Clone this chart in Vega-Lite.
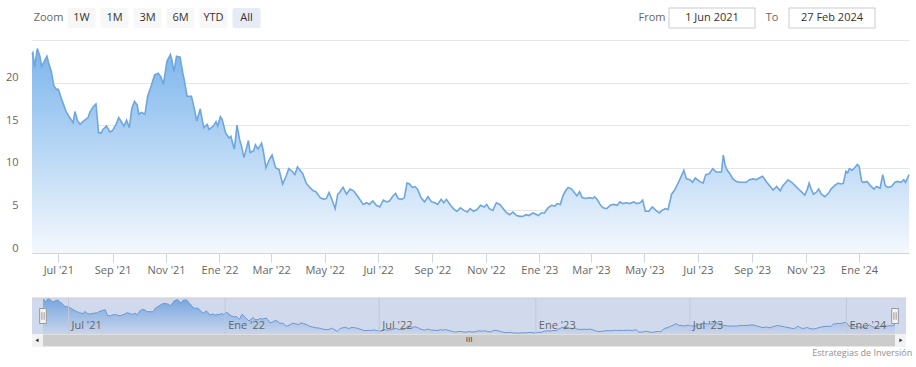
{
"$schema": "https://vega.github.io/schema/vega-lite/v6.json",
"padding": {"left": 0, "top": 7, "right": 0, "bottom": 0},
"background": "white",
"spacing": 11,
"config": {"view": {"stroke": null}, "font": "Open Sans"},
"title": {"text": "Estrategias de Inversión", "orient": "bottom", "anchor": "end", "fontSize": 9, "fontWeight": "normal", "color": "#909090", "font": "Open Sans", "offset": 2},
"datasets": {
"buttons": [{"label": "Zoom"}, {"label": "1W"}, {"label": "1M"}, {"label": "3M"}, {"label": "6M"}, {"label": "YTD"}, {"label": "All"}],
"fromto": [{"label": "From"}, {"label": "1 Jun 2021"}, {"label": "To"}, {"label": "27 Feb 2024"}],
"navticks": [{"date": "2021-07-01", "label": "Jul '21"}, {"date": "2022-01-01", "label": "Ene '22"}, {"date": "2022-07-01", "label": "Jul '22"}, {"date": "2023-01-01", "label": "Ene '23"}, {"date": "2023-07-01", "label": "Jul '23"}, {"date": "2024-01-01", "label": "Ene '24"}],
"prices": [
{"date":"2021-06-01","price":23.3},{"date":"2021-06-02","price":23.5},{"date":"2021-06-04","price":21.8},{"date":"2021-06-07","price":24.0},{"date":"2021-06-10","price":23.1},{"date":"2021-06-12","price":21.9},{"date":"2021-06-15","price":22.5},{"date":"2021-06-18","price":23.1},{"date":"2021-06-20","price":22.3},{"date":"2021-06-23","price":21.3},{"date":"2021-06-26","price":19.6},{"date":"2021-06-29","price":19.2},
{"date":"2021-07-01","price":19.2},{"date":"2021-07-05","price":18.0},{"date":"2021-07-10","price":16.6},{"date":"2021-07-14","price":15.9},{"date":"2021-07-18","price":15.3},{"date":"2021-07-20","price":16.6},{"date":"2021-07-23","price":15.5},{"date":"2021-07-26","price":15.1},{"date":"2021-07-30","price":15.5},
{"date":"2021-08-04","price":15.9},{"date":"2021-08-06","price":16.5},{"date":"2021-08-10","price":17.2},{"date":"2021-08-13","price":17.5},{"date":"2021-08-16","price":14.1},{"date":"2021-08-19","price":14.1},{"date":"2021-08-21","price":14.5},{"date":"2021-08-25","price":14.9},{"date":"2021-08-29","price":14.2},
{"date":"2021-09-01","price":14.4},{"date":"2021-09-05","price":15.1},{"date":"2021-09-08","price":15.9},{"date":"2021-09-11","price":15.4},{"date":"2021-09-14","price":14.9},{"date":"2021-09-17","price":15.6},{"date":"2021-09-20","price":14.7},{"date":"2021-09-23","price":17.0},{"date":"2021-09-26","price":17.8},{"date":"2021-09-29","price":17.4},
{"date":"2021-10-01","price":16.3},{"date":"2021-10-04","price":16.5},{"date":"2021-10-08","price":16.3},{"date":"2021-10-11","price":18.4},{"date":"2021-10-15","price":19.6},{"date":"2021-10-19","price":20.9},{"date":"2021-10-23","price":21.1},{"date":"2021-10-26","price":20.7},{"date":"2021-10-29","price":19.8},
{"date":"2021-11-02","price":22.5},{"date":"2021-11-06","price":23.3},{"date":"2021-11-08","price":22.5},{"date":"2021-11-10","price":21.3},{"date":"2021-11-13","price":23.1},{"date":"2021-11-17","price":23.0},{"date":"2021-11-20","price":21.2},{"date":"2021-11-22","price":20.2},{"date":"2021-11-25","price":18.4},{"date":"2021-11-30","price":18.4},
{"date":"2021-12-04","price":16.6},{"date":"2021-12-06","price":15.5},{"date":"2021-12-10","price":16.9},{"date":"2021-12-14","price":14.7},{"date":"2021-12-18","price":15.1},{"date":"2021-12-20","price":14.5},{"date":"2021-12-25","price":14.9},{"date":"2021-12-28","price":15.4},{"date":"2021-12-30","price":14.9},
{"date":"2022-01-02","price":16.0},{"date":"2022-01-04","price":15.7},{"date":"2022-01-08","price":14.1},{"date":"2022-01-12","price":13.5},{"date":"2022-01-14","price":13.7},{"date":"2022-01-17","price":12.5},{"date":"2022-01-18","price":12.2},{"date":"2022-01-21","price":15.0},{"date":"2022-01-24","price":13.3},{"date":"2022-01-26","price":12.6},{"date":"2022-01-29","price":11.2},
{"date":"2022-02-01","price":12.4},{"date":"2022-02-03","price":13.2},{"date":"2022-02-05","price":11.8},{"date":"2022-02-09","price":12.0},{"date":"2022-02-11","price":12.7},{"date":"2022-02-14","price":12.2},{"date":"2022-02-18","price":12.9},{"date":"2022-02-20","price":12.0},{"date":"2022-02-23","price":10.0},{"date":"2022-02-27","price":11.0},
{"date":"2022-03-02","price":11.5},{"date":"2022-03-06","price":10.0},{"date":"2022-03-10","price":9.8},{"date":"2022-03-14","price":8.1},{"date":"2022-03-18","price":9.0},{"date":"2022-03-21","price":9.9},{"date":"2022-03-25","price":9.6},{"date":"2022-03-28","price":9.2},{"date":"2022-03-31","price":10.1},
{"date":"2022-04-03","price":9.7},{"date":"2022-04-06","price":9.3},{"date":"2022-04-10","price":8.2},{"date":"2022-04-14","price":7.7},{"date":"2022-04-18","price":7.3},{"date":"2022-04-21","price":7.2},{"date":"2022-04-26","price":6.5},{"date":"2022-04-30","price":6.3},
{"date":"2022-05-03","price":6.4},{"date":"2022-05-06","price":7.1},{"date":"2022-05-10","price":6.1},{"date":"2022-05-13","price":5.2},{"date":"2022-05-16","price":6.9},{"date":"2022-05-18","price":7.1},{"date":"2022-05-22","price":7.7},{"date":"2022-05-26","price":6.9},{"date":"2022-05-30","price":7.5},
{"date":"2022-06-03","price":7.3},{"date":"2022-06-06","price":6.9},{"date":"2022-06-10","price":6.3},{"date":"2022-06-14","price":5.7},{"date":"2022-06-18","price":5.9},{"date":"2022-06-21","price":5.7},{"date":"2022-06-25","price":6.1},{"date":"2022-06-29","price":5.6},
{"date":"2022-07-03","price":5.4},{"date":"2022-07-07","price":6.2},{"date":"2022-07-11","price":6.0},{"date":"2022-07-14","price":6.1},{"date":"2022-07-18","price":6.7},{"date":"2022-07-21","price":7.0},{"date":"2022-07-24","price":6.4},{"date":"2022-07-28","price":6.3},{"date":"2022-07-31","price":6.5},
{"date":"2022-08-03","price":8.2},{"date":"2022-08-06","price":8.1},{"date":"2022-08-09","price":7.7},{"date":"2022-08-12","price":7.8},{"date":"2022-08-15","price":7.5},{"date":"2022-08-19","price":6.5},{"date":"2022-08-23","price":6.0},{"date":"2022-08-27","price":6.6},{"date":"2022-08-31","price":6.0},
{"date":"2022-09-04","price":5.9},{"date":"2022-09-07","price":5.7},{"date":"2022-09-11","price":6.3},{"date":"2022-09-14","price":5.9},{"date":"2022-09-17","price":6.3},{"date":"2022-09-21","price":5.7},{"date":"2022-09-26","price":5.1},{"date":"2022-09-29","price":4.9},
{"date":"2022-10-03","price":5.3},{"date":"2022-10-07","price":5.0},{"date":"2022-10-11","price":4.8},{"date":"2022-10-14","price":5.2},{"date":"2022-10-18","price":4.9},{"date":"2022-10-22","price":5.1},{"date":"2022-10-26","price":5.6},{"date":"2022-10-30","price":5.4},
{"date":"2022-11-02","price":5.7},{"date":"2022-11-05","price":5.2},{"date":"2022-11-09","price":5.0},{"date":"2022-11-13","price":5.9},{"date":"2022-11-17","price":5.7},{"date":"2022-11-21","price":5.2},{"date":"2022-11-24","price":4.8},{"date":"2022-11-28","price":4.5},
{"date":"2022-12-02","price":4.8},{"date":"2022-12-06","price":4.4},{"date":"2022-12-10","price":4.3},{"date":"2022-12-13","price":4.3},{"date":"2022-12-17","price":4.5},{"date":"2022-12-20","price":4.4},{"date":"2022-12-25","price":4.7},{"date":"2022-12-31","price":4.4},
{"date":"2023-01-03","price":4.7},{"date":"2023-01-07","price":4.7},{"date":"2023-01-11","price":5.3},{"date":"2023-01-15","price":5.6},{"date":"2023-01-19","price":5.5},{"date":"2023-01-21","price":5.8},{"date":"2023-01-25","price":5.7},{"date":"2023-01-28","price":6.7},{"date":"2023-01-31","price":7.3},
{"date":"2023-02-03","price":7.7},{"date":"2023-02-07","price":7.5},{"date":"2023-02-10","price":7.1},{"date":"2023-02-13","price":6.7},{"date":"2023-02-16","price":7.2},{"date":"2023-02-19","price":6.5},{"date":"2023-02-23","price":6.4},{"date":"2023-02-27","price":6.5},
{"date":"2023-03-03","price":6.4},{"date":"2023-03-05","price":6.6},{"date":"2023-03-08","price":6.3},{"date":"2023-03-12","price":5.6},{"date":"2023-03-15","price":5.3},{"date":"2023-03-19","price":5.2},{"date":"2023-03-23","price":5.6},{"date":"2023-03-27","price":5.7},{"date":"2023-03-31","price":5.6},
{"date":"2023-04-03","price":6.0},{"date":"2023-04-06","price":5.8},{"date":"2023-04-10","price":5.9},{"date":"2023-04-14","price":5.8},{"date":"2023-04-19","price":6.0},{"date":"2023-04-22","price":5.8},{"date":"2023-04-26","price":5.9},{"date":"2023-04-29","price":6.2},
{"date":"2023-05-02","price":4.9},{"date":"2023-05-06","price":4.9},{"date":"2023-05-10","price":5.4},{"date":"2023-05-14","price":5.0},{"date":"2023-05-18","price":4.7},{"date":"2023-05-21","price":5.0},{"date":"2023-05-25","price":5.2},{"date":"2023-05-28","price":5.1},
{"date":"2023-06-01","price":6.9},{"date":"2023-06-04","price":7.3},{"date":"2023-06-08","price":8.1},{"date":"2023-06-12","price":9.0},{"date":"2023-06-15","price":9.7},{"date":"2023-06-18","price":8.7},{"date":"2023-06-22","price":8.6},{"date":"2023-06-25","price":8.3},{"date":"2023-06-28","price":8.8},
{"date":"2023-07-03","price":8.4},{"date":"2023-07-07","price":8.2},{"date":"2023-07-10","price":9.2},{"date":"2023-07-14","price":9.3},{"date":"2023-07-18","price":9.9},{"date":"2023-07-22","price":9.5},{"date":"2023-07-26","price":9.5},{"date":"2023-07-28","price":9.5},{"date":"2023-07-30","price":11.5},
{"date":"2023-08-01","price":10.4},{"date":"2023-08-03","price":9.8},{"date":"2023-08-06","price":9.4},{"date":"2023-08-10","price":8.7},{"date":"2023-08-14","price":8.4},{"date":"2023-08-18","price":8.3},{"date":"2023-08-21","price":8.3},{"date":"2023-08-25","price":8.3},{"date":"2023-08-29","price":8.6},
{"date":"2023-09-02","price":8.7},{"date":"2023-09-06","price":8.6},{"date":"2023-09-09","price":8.8},{"date":"2023-09-13","price":9.0},{"date":"2023-09-17","price":8.4},{"date":"2023-09-21","price":7.9},{"date":"2023-09-25","price":7.4},{"date":"2023-09-29","price":7.8},
{"date":"2023-10-03","price":7.3},{"date":"2023-10-06","price":7.9},{"date":"2023-10-12","price":8.6},{"date":"2023-10-16","price":8.3},{"date":"2023-10-20","price":7.9},{"date":"2023-10-23","price":7.6},{"date":"2023-10-27","price":7.2},{"date":"2023-10-31","price":6.8},
{"date":"2023-11-03","price":7.5},{"date":"2023-11-05","price":8.2},{"date":"2023-11-07","price":7.6},{"date":"2023-11-10","price":6.9},{"date":"2023-11-13","price":7.1},{"date":"2023-11-16","price":7.5},{"date":"2023-11-19","price":6.9},{"date":"2023-11-23","price":6.6},{"date":"2023-11-27","price":7.0},{"date":"2023-11-30","price":7.5},
{"date":"2023-12-04","price":7.9},{"date":"2023-12-08","price":8.2},{"date":"2023-12-12","price":8.1},{"date":"2023-12-14","price":8.2},{"date":"2023-12-17","price":9.6},{"date":"2023-12-19","price":9.4},{"date":"2023-12-21","price":9.9},{"date":"2023-12-24","price":9.7},{"date":"2023-12-27","price":10.0},{"date":"2023-12-30","price":10.4},
{"date":"2024-01-01","price":10.2},{"date":"2024-01-04","price":8.4},{"date":"2024-01-06","price":8.3},{"date":"2024-01-10","price":8.4},{"date":"2024-01-14","price":7.9},{"date":"2024-01-18","price":7.5},{"date":"2024-01-21","price":7.8},{"date":"2024-01-25","price":7.6},{"date":"2024-01-28","price":9.2},{"date":"2024-01-31","price":7.9},
{"date":"2024-02-03","price":7.7},{"date":"2024-02-07","price":7.8},{"date":"2024-02-11","price":8.3},{"date":"2024-02-14","price":8.4},{"date":"2024-02-18","price":8.3},{"date":"2024-02-21","price":8.6},{"date":"2024-02-23","price":8.3},{"date":"2024-02-27","price":9.2}
]
},
"vconcat": [
{
"spacing": 359,
"hconcat": [
{
"data": {"name": "buttons"},
"width": {"step": 33},
"height": 20,
"encoding": {"x": {"field": "label", "type": "nominal", "scale": {"domain": ["Zoom", "1W", "1M", "3M", "6M", "YTD", "All"], "paddingInner": 0, "paddingOuter": 0}, "axis": null}},
"layer": [
{"transform": [{"filter": "datum.label != 'Zoom'"}], "mark": {"type": "bar", "width": 28, "cornerRadius": 2}, "encoding": {"color": {"condition": {"test": "datum.label == 'All'", "value": "#e6ebf5"}, "value": "#f7f7f7"}}},
{"mark": {"type": "text", "fontSize": 11, "font": "Open Sans"}, "encoding": {"text": {"field": "label"}, "color": {"condition": {"test": "datum.label == 'Zoom'", "value": "#666666"}, "value": "#333333"}, "fontWeight": {"condition": {"test": "datum.label == 'All'", "value": "bold"}, "value": "normal"}}}
]
},
{
"data": {"name": "fromto"},
"width": {"step": 60},
"height": 20,
"encoding": {"x": {"field": "label", "type": "nominal", "scale": {"domain": ["From", "1 Jun 2021", "To", "27 Feb 2024"], "paddingInner": 0, "paddingOuter": 0}, "axis": null}},
"layer": [
{"transform": [{"filter": "datum.label != 'From' && datum.label != 'To'"}], "mark": {"type": "bar", "width": 86, "color": "white", "stroke": "#cccccc", "strokeWidth": 1}, "encoding": {}},
{"mark": {"type": "text", "fontSize": 11, "font": "Open Sans"}, "encoding": {"text": {"field": "label"}, "color": {"condition": {"test": "datum.label == 'From' || datum.label == 'To'", "value": "#666666"}, "value": "#333333"}}}
]
}
]
},
{
"width": 877,
"height": 213,
"data": {"name": "prices"},
"encoding": {
"x": {"field": "date", "type": "temporal", "scale": {"type": "utc", "nice": false},
"axis": {"title": null, "grid": false, "values": [
{"year":2021,"month":7,"date":1,"utc":true},{"year":2021,"month":9,"date":1,"utc":true},{"year":2021,"month":11,"date":1,"utc":true},
{"year":2022,"month":1,"date":1,"utc":true},{"year":2022,"month":3,"date":1,"utc":true},{"year":2022,"month":5,"date":1,"utc":true},{"year":2022,"month":7,"date":1,"utc":true},{"year":2022,"month":9,"date":1,"utc":true},{"year":2022,"month":11,"date":1,"utc":true},
{"year":2023,"month":1,"date":1,"utc":true},{"year":2023,"month":3,"date":1,"utc":true},{"year":2023,"month":5,"date":1,"utc":true},{"year":2023,"month":7,"date":1,"utc":true},{"year":2023,"month":9,"date":1,"utc":true},{"year":2023,"month":11,"date":1,"utc":true},
{"year":2024,"month":1,"date":1,"utc":true}],
"labelExpr": "['Ene','Feb','Mar','Abr','May','Jun','Jul','Ago','Sep','Oct','Nov','Dic'][utcmonth(datum.value)] + \" '\" + utcFormat(datum.value, '%y')",
"domainColor": "#ccd6eb", "tickColor": "#ccd6eb", "tickSize": 9, "labelColor": "#666666", "labelFontSize": 11, "labelFont": "Open Sans", "labelPadding": 2, "labelFlush": false, "labelOverlap": false, "minExtent": 32, "maxExtent": 32}},
"y": {"field": "price", "type": "quantitative", "scale": {"domain": [0, 25], "nice": false},
"axis": {"title": null, "values": [0, 5, 10, 15, 20, 25], "labelExpr": "datum.value == 25 ? '' : datum.label", "domain": false, "ticks": false, "gridColor": "#e6e6e6", "labelColor": "#666666", "labelFont": "Open Sans", "labelFontSize": 11, "labelPadding": 14, "labelOffset": -5, "minExtent": 32, "maxExtent": 32}}
},
"layer": [
{"mark": {"type": "area", "color": {"gradient": "linear", "x1": 0, "y1": 0, "x2": 0, "y2": 1, "stops": [{"offset": 0, "color": "#7cb5ec"}, {"offset": 1, "color": "#f4f8fd"}]}}},
{"mark": {"type": "line", "color": "#6ea7de", "strokeWidth": 1.6}}
]
},
{
"width": 874,
"height": 49,
"layer": [
{"data": {"name": "prices"}, "mark": {"type": "area", "color": {"gradient": "linear", "x1": 0, "y1": 0, "x2": 0, "y2": 1, "stops": [{"offset": 0, "color": "#7cb5ec"}, {"offset": 1, "color": "#f4f8fd"}]}},
"encoding": {"x": {"field": "date", "type": "temporal", "scale": {"type": "utc", "nice": false, "padding": 11}, "axis": null}, "y": {"field": "price", "type": "quantitative", "scale": {"domain": [-3.56, 24.2], "nice": false, "zero": false}, "axis": null}, "y2": {"datum": 3.8}}},
{"data": {"name": "prices"}, "mark": {"type": "line", "color": "#6f9fd8", "strokeWidth": 1}, "encoding": {"x": {"field": "date", "type": "temporal", "axis": null}, "y": {"field": "price", "type": "quantitative", "axis": null}}},
{"data": {"name": "navticks"}, "mark": {"type": "rule", "color": "#e6e6e6", "strokeWidth": 1}, "encoding": {"x": {"field": "date", "type": "temporal", "axis": null}, "y": {"datum": 3.8, "axis": null}, "y2": {"datum": 24.2}}},
{"data": {"values": [{}]}, "mark": {"type": "rect", "color": "#6685c2", "opacity": 0.3}, "encoding": {"y": {"datum": 3.8, "axis": null}, "y2": {"datum": 24.2}}},
{"data": {"name": "navticks"}, "mark": {"type": "text", "align": "left", "baseline": "middle", "dx": 3, "fontSize": 11, "font": "Open Sans", "color": "#666666"}, "encoding": {"x": {"field": "date", "type": "temporal", "axis": null}, "y": {"datum": 8.3, "axis": null}, "text": {"field": "label"}}},
{"data": {"values": [{}]}, "mark": {"type": "rule", "color": "#cccccc"}, "encoding": {"y": {"datum": 24.2, "axis": null}}},
{"data": {"values": [{}]}, "mark": {"type": "rect", "color": "#f2f2f2"}, "encoding": {"y": {"datum": -3.56, "axis": null}, "y2": {"datum": 3.8}}},
{"data": {"name": "prices"}, "mark": {"type": "rect", "color": "#cccccc"}, "encoding": {"x": {"aggregate": "min", "field": "date", "type": "temporal", "axis": null}, "x2": {"aggregate": "max", "field": "date"}, "y": {"datum": -3.2, "axis": null}, "y2": {"datum": 3.5}}},
{"data": {"values": [{"label": "III"}]}, "mark": {"type": "text", "fontSize": 8, "color": "#333333"}, "encoding": {"text": {"field": "label"}, "y": {"datum": 0.2, "axis": null}}},
{"data": {"name": "prices"}, "mark": {"type": "point", "shape": "triangle-left", "size": 14, "filled": true, "color": "#333333", "opacity": 1, "xOffset": -6}, "encoding": {"x": {"aggregate": "min", "field": "date", "type": "temporal", "axis": null}, "y": {"datum": 0.2, "axis": null}}},
{"data": {"name": "prices"}, "mark": {"type": "point", "shape": "triangle-right", "size": 14, "filled": true, "color": "#333333", "opacity": 1, "xOffset": 6}, "encoding": {"x": {"aggregate": "max", "field": "date", "type": "temporal", "axis": null}, "y": {"datum": 0.2, "axis": null}}},
{"data": {"name": "prices"}, "mark": {"type": "point", "shape": "M-0.45,-1H0.45V1H-0.45Z M-0.15,-0.5V0.5 M0.15,-0.5V0.5", "size": 225, "filled": false, "fill": "#f2f2f2", "stroke": "#999999", "strokeWidth": 1, "opacity": 1}, "encoding": {"x": {"aggregate": "min", "field": "date", "type": "temporal", "axis": null}, "y": {"datum": 14, "axis": null}}},
{"data": {"name": "prices"}, "mark": {"type": "point", "shape": "M-0.45,-1H0.45V1H-0.45Z M-0.15,-0.5V0.5 M0.15,-0.5V0.5", "size": 225, "filled": false, "fill": "#f2f2f2", "stroke": "#999999", "strokeWidth": 1, "opacity": 1}, "encoding": {"x": {"aggregate": "max", "field": "date", "type": "temporal", "axis": null}, "y": {"datum": 14, "axis": null}}}
]
}
]
}
